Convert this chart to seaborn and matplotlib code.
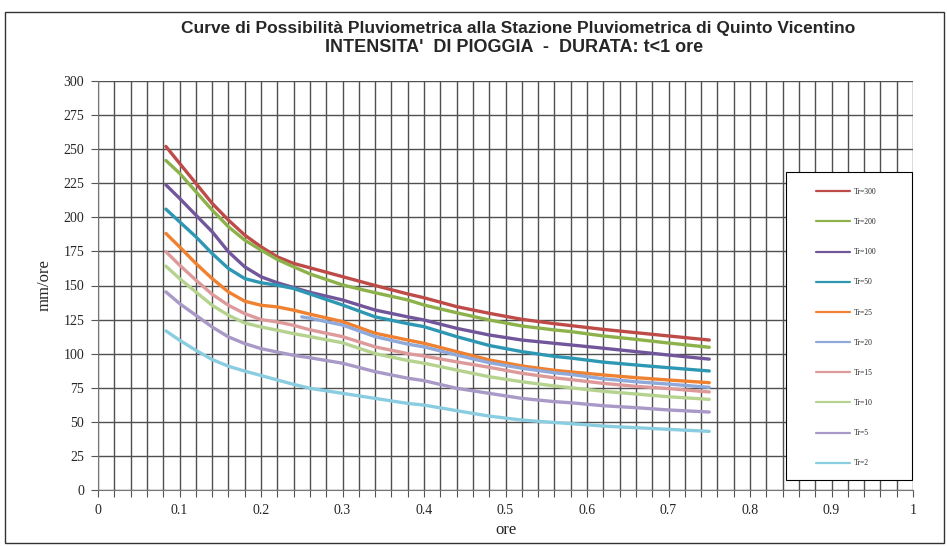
import pandas as pd
import numpy as np
import matplotlib
matplotlib.use('Agg')
import matplotlib.pyplot as plt
import seaborn as sns
from matplotlib.patches import Rectangle
from matplotlib.ticker import MultipleLocator, FuncFormatter

# durate (ore) e intensità (mm/ore)
durata = [0.0833, 0.10, 0.12, 0.14, 0.16, 0.18, 0.20, 0.22, 0.24, 0.26,
          0.30, 0.34, 0.38, 0.40, 0.44, 0.48, 0.52, 0.56, 0.58, 0.62,
          0.66, 0.70, 0.75]
tr300 = [252, 239.7, 225, 210.3, 198, 187, 178.4, 171, 166.2, 163,
         156.5, 150, 143.8, 141, 134.5, 129.6, 125.2, 122, 120.6, 117.8,
         115.4, 113, 110]
tr200 = [241.7, 232.4, 218.9, 205.4, 193.1, 183.3, 176, 169.1, 163.7, 158.5,
         150.4, 144.7, 139.4, 135.7, 130, 124.7, 120.3, 117.4, 116.2, 113,
         110.5, 107.8, 104.7]
tr100 = [223.8, 214, 201.7, 189.5, 174.8, 163.7, 156.4, 152, 148.5, 145,
         139.4, 132, 127, 124.7, 118.6, 113.7, 110, 107.6, 106.4, 104,
         101.5, 99, 96]
tr50 = [206, 196.8, 185.8, 173.5, 162.5, 155.1, 152, 150.2, 147.8, 143.8,
        135.7, 127, 122, 119.8, 112.5, 106, 101.5, 98, 96.8, 93.8,
        91.7, 89.7, 87.3]
tr25 = [188.2, 178.4, 166.2, 155.1, 145.3, 138.5, 135.5, 134.3, 131.9, 129,
        123.5, 115, 110, 107.6, 101.5, 95.4, 91, 87.8, 86.6, 84.4,
        82.4, 80.7, 78.7]
tr15 = [174.8, 165, 154, 143.6, 135.5, 129.4, 125, 123.3, 120.8, 117.5,
        112.5, 105, 100, 98.3, 94, 90, 85.6, 82.3, 81, 78.2,
        76, 74.4, 71.9]
tr10 = [164.2, 155.1, 145.3, 135.5, 128.2, 122.5, 119.6, 117.2, 114.7, 112.5,
        108, 100, 95, 93, 88, 83.1, 79.4, 76.3, 75, 72.4,
        70.4, 68.4, 66.5]
tr5 = [145.3, 136.8, 128.2, 119.6, 112.3, 107.4, 103.7, 101.2, 98.8, 97,
       93, 86.8, 82, 80.2, 74.6, 70.9, 67.2, 64.8, 64, 61.8,
       60.4, 58.7, 57.2]
tr2 = [116.7, 109.9, 102.5, 95.7, 90.8, 87.2, 84, 80.7, 77.5, 74.6,
       70.9, 67.2, 63.5, 62.3, 58.2, 54.2, 51.3, 49.5, 48.7, 46.9,
       45.7, 44.5, 43]
# Tr=20 parte solo da 0.25 ore
durata_tr20 = [0.25, 0.26, 0.30, 0.34, 0.38, 0.40, 0.44, 0.48, 0.52,
               0.56, 0.58, 0.62, 0.66, 0.70, 0.75]
tr20 = [127, 126, 121, 112.5, 107, 105, 99, 93.4, 89.3, 86,
        84.8, 81.6, 79.4, 77.7, 75.3]

etichette = ['Tr=300', 'Tr=200', 'Tr=100', 'Tr=50', 'Tr=25',
             'Tr=20', 'Tr=15', 'Tr=10', 'Tr=5', 'Tr=2']
colori = ['#BE4B48', '#8DB14B', '#72569C', '#2E98B4', '#EF8131',
          '#8FA9DA', '#DE9A9A', '#B5D38E', '#A899C7', '#8ACDE0']

serie = {'Tr=300': tr300, 'Tr=200': tr200, 'Tr=100': tr100, 'Tr=50': tr50,
         'Tr=25': tr25, 'Tr=15': tr15, 'Tr=10': tr10, 'Tr=5': tr5, 'Tr=2': tr2}

pezzi = []
for nome, valori in serie.items():
    pezzi.append(pd.DataFrame({'ore': durata, 'mm': valori, 'Tr': nome}))
pezzi.append(pd.DataFrame({'ore': durata_tr20, 'mm': tr20, 'Tr': 'Tr=20'}))
df = pd.concat(pezzi, ignore_index=True)

sns.set_style('white')
plt.rcParams['font.family'] = ['Liberation Serif', 'DejaVu Serif']

fig = plt.figure(figsize=(9.47, 5.46), dpi=100)
ax = fig.add_axes([98 / 947, 1 - 490 / 546, 815 / 947, 409 / 546])

sns.lineplot(data=df, x='ore', y='mm', hue='Tr', hue_order=etichette,
             palette=colori, linewidth=2.4, estimator=None, sort=False,
             legend=False, ax=ax, zorder=3)
for ln in ax.get_lines():
    ln.set_solid_joinstyle('round')
    ln.set_solid_capstyle('round')

ax.set_xlim(0, 1)
ax.set_ylim(0, 300)
ax.xaxis.set_major_locator(MultipleLocator(0.1))
ax.xaxis.set_minor_locator(MultipleLocator(0.02))
ax.xaxis.set_major_formatter(FuncFormatter(lambda v, p: f'{round(v, 2):g}'))
ax.yaxis.set_major_locator(MultipleLocator(25))
ax.grid(which='major', axis='both', color='#505050', linewidth=1.0)
ax.grid(which='minor', axis='x', color='#505050', linewidth=1.0)
ax.tick_params(axis='x', which='both', direction='out', length=5, width=0.8,
               color='#555555', labelsize=10, pad=5, bottom=True)
ax.tick_params(axis='y', which='major', direction='out', length=5, width=0.8,
               color='#555555', labelsize=10, pad=5, left=True)
for s in ax.spines.values():
    s.set_visible(False)
ax.spines['bottom'].set_visible(True)
ax.spines['bottom'].set_color('#777777')
ax.spines['left'].set_visible(True)
ax.spines['left'].set_color('#777777')

ax.set_xlabel('ore', fontsize=12, labelpad=4)
ax.set_ylabel('mm/ore', fontsize=12, labelpad=8)

# riquadro legenda
box = Rectangle(((786 - 98) / 815, (490 - 480) / 409), (912 - 786) / 815,
                (480 - 172) / 409, transform=ax.transAxes, facecolor='white',
                edgecolor='black', linewidth=0.8, zorder=4, clip_on=False)
ax.add_patch(box)
handles = [plt.Line2D([], [], color=c, linewidth=1.6) for c in colori]
leg = ax.legend(handles, etichette, loc='upper left', frameon=False,
                bbox_to_anchor=((816 - 98) / 815, (490 - 188) / 409),
                borderaxespad=0, borderpad=0, fontsize=5.5,
                handlelength=4.4, handletextpad=0.6, labelspacing=2.9)
leg.set_zorder(5)

titolo = ['Curve di Possibilità Pluviometrica alla Stazione Pluviometrica di Quinto Vicentino',
          "INTENSITA'  DI PIOGGIA  -  DURATA: t<1 ore"]
fig.text(518 / 947, 1 - 28 / 546, titolo[0], ha='center', va='center',
         fontsize=12.5, fontweight='bold', family=['Liberation Sans', 'DejaVu Sans'])
fig.text(514 / 947, 1 - 47 / 546, titolo[1], ha='center', va='center',
         fontsize=13, fontweight='bold', family=['Liberation Sans', 'DejaVu Sans'])

# cornice esterna
fig.patches.append(Rectangle((5 / 947, 1 - 543 / 546), 939 / 947, 531 / 546,
                             transform=fig.transFigure, fill=False,
                             edgecolor='#333333', linewidth=1.0))

fig.savefig('out.png', dpi=100)
